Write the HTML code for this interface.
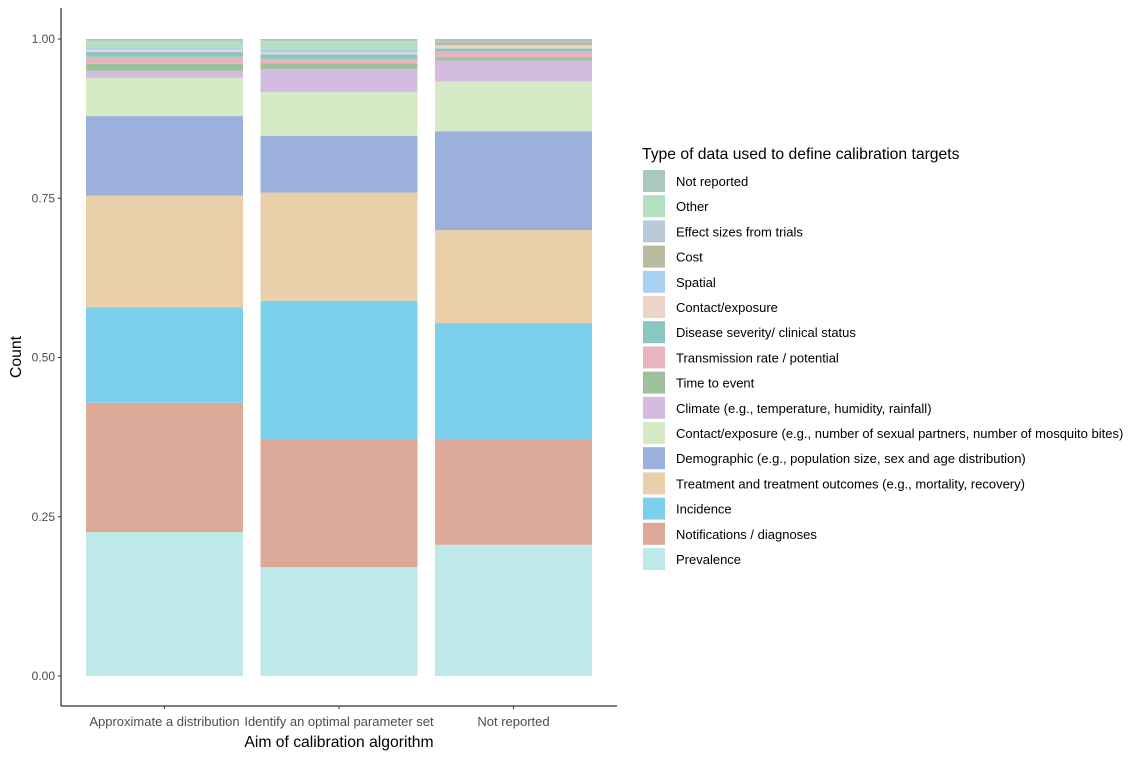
<!DOCTYPE html>
<html><head><meta charset="utf-8"><style>
body{margin:0;background:#fff;font-family:"Liberation Sans",Arial,sans-serif}
svg text{font-family:"Liberation Sans",Arial,sans-serif}
</style></head><body>
<svg id="chart" width="1140" height="757" xmlns="http://www.w3.org/2000/svg">
<g id="bars"></g>
<g id="axes"></g>
<g id="legend"></g>
</svg>
<script>
const categories = ["Approximate a distribution","Identify an optimal parameter set","Not reported"];
const seriesNames = ["Prevalence","Notifications / diagnoses","Incidence","Treatment and treatment outcomes (e.g., mortality, recovery)","Demographic (e.g., population size, sex and age distribution)","Contact/exposure (e.g., number of sexual partners, number of mosquito bites)","Climate (e.g., temperature, humidity, rainfall)","Time to event","Transmission rate / potential","Disease severity/ clinical status","Contact/exposure","Spatial","Cost","Effect sizes from trials","Other","Not reported"];
const seriesColors = ["#bdeae8","#dca898","#7dd0ec","#ead0a8","#9cb0dc","#d6eac6","#d4bce0","#9ec09a","#e8b4c0","#88c8c0","#ecd5c8","#a8d0f0","#b8bba0","#b8cad8","#b3e0c0","#aac8c0"];
const valuesApprox = [0.226,0.203,0.150,0.175,0.125,0.060,0.011,0.011,0.011,0.008,0.003,0.003,0,0,0.011,0.003];
const valuesOptimal = [0.171,0.201,0.217,0.170,0.089,0.069,0.036,0.009,0.006,0.008,0.003,0.005,0,0,0.013,0.003];
const valuesNR = [0.206,0.166,0.182,0.146,0.155,0.078,0.033,0.005,0.009,0.005,0.005,0,0.005,0,0,0.005];
const seriesByCategory = [valuesApprox, valuesOptimal, valuesNR];
const yTicks = [0,0.25,0.5,0.75,1];
const yTickLabels = ["0.00","0.25","0.50","0.75","1.00"];

const NS="http://www.w3.org/2000/svg";
function mk(tag,attrs,parent){const e=document.createElementNS(NS,tag);for(const k in attrs)e.setAttribute(k,attrs[k]);parent.appendChild(e);return e;}
const y0=676,y1=39;
function yScale(v){return y0-(y0-y1)*v;}
const bandStart=86,bandStep=174.5,barW=157;
function xScale(i){return bandStart+i*bandStep;}

const bars=document.getElementById('bars');
seriesByCategory.forEach((vals,ci)=>{
  const sum=vals.reduce((a,b)=>a+b,0);
  let cum=0;
  vals.forEach((v,si)=>{
    if(v<=0)return;
    const n=v/sum;
    const top=yScale(cum+n), bot=yScale(cum);
    const r=mk('rect',{x:xScale(ci),y:top,width:barW,height:bot-top,fill:seriesColors[si]},bars);
    
    
    cum+=n;
  });
});

const axes=document.getElementById('axes');
let l=mk('line',{x1:61,y1:8,x2:61,y2:706,stroke:'#000','stroke-width':1},axes);

l=mk('line',{x1:61,y1:706,x2:617,y2:706,stroke:'#000','stroke-width':1},axes);

yTicks.forEach((t,i)=>{
  const y=yScale(t);
  const tk=mk('line',{x1:58,y1:y,x2:61,y2:y,stroke:'#333'},axes);
  
  const tx=mk('text',{x:55,y:y+4,'text-anchor':'end','font-size':12,fill:'#4d4d4d'},axes);
  tx.textContent=yTickLabels[i];
  
});
categories.forEach((c,i)=>{
  const x=xScale(i)+barW/2;
  const tk=mk('line',{x1:x,y1:706,x2:x,y2:709,stroke:'#333'},axes);
  
  const tx=mk('text',{x:x,y:726,'text-anchor':'middle','font-size':13,fill:'#4d4d4d'},axes);
  tx.textContent=c;
  
});
let t=mk('text',{x:339,y:747,'text-anchor':'middle','font-size':15.7,fill:'#000'},axes);
t.textContent='Aim of calibration algorithm';

t=mk('text',{x:21,y:357,'text-anchor':'middle','font-size':15.7,fill:'#000',transform:'rotate(-90 21 357)'},axes);
t.textContent='Count';


const lg=document.getElementById('legend');
t=mk('text',{x:642,y:159,'font-size':15.7,fill:'#000'},lg);
t.textContent='Type of data used to define calibration targets';

for(let k=0;k<seriesNames.length;k++){
  const si=seriesNames.length-1-k;
  const y=170+k*25.2;
  const r=mk('rect',{x:643,y:y,width:22,height:22,fill:seriesColors[si]},lg);
  
  const tx=mk('text',{x:676,y:y+16,'font-size':13,fill:'#000'},lg);
  tx.textContent=seriesNames[si];
  
}
</script>
</body></html>
